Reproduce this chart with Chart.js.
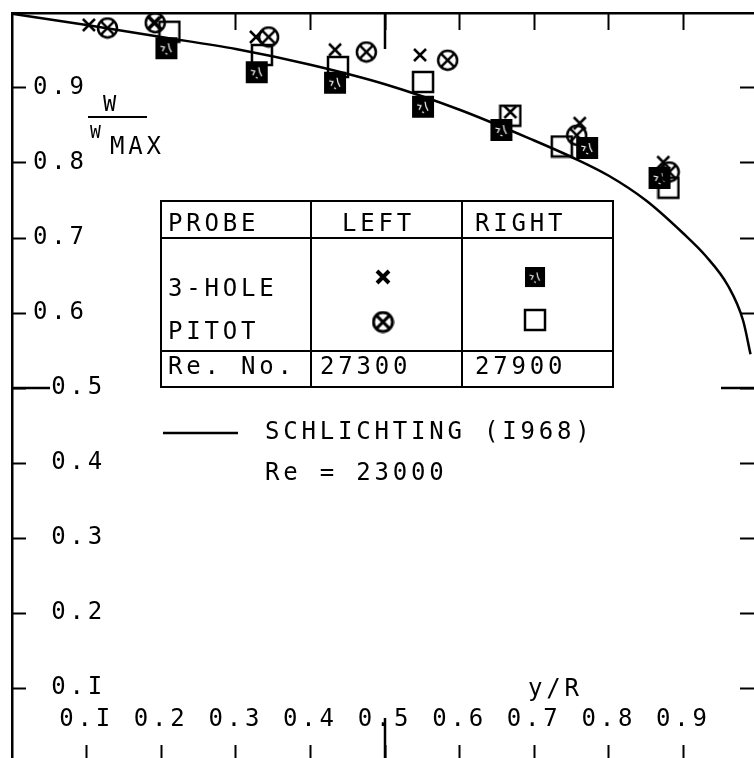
<!DOCTYPE html>
<html>
<head>
<meta charset="utf-8">
<script src="https://cdn.jsdelivr.net/npm/chart.js@4.4.0/dist/chart.umd.min.js"></script>
<style>
  html, body { margin: 0; padding: 0; background: #fff; overflow: hidden; }
  #wrap { width: 770px; height: 775px; }
</style>
</head>
<body>
<div id="wrap"><canvas id="profile" width="770" height="775"></canvas></div>
<script>
// Schlichting curve (Re = 23000)
var schlichtingX = [0.0, 0.1, 0.2, 0.3, 0.4, 0.5, 0.6, 0.7, 0.75, 0.8, 0.85, 0.9, 0.93, 0.96, 0.98, 0.99];
var schlichtingW = [0.999, 0.984, 0.968, 0.952, 0.931, 0.905, 0.871, 0.830, 0.808, 0.783, 0.750, 0.706, 0.676, 0.636, 0.590, 0.545];

// left side, 3-hole probe (x) and pitot (circle-x)
var left3HoleX = [0.103, 0.19, 0.327, 0.433, 0.547, 0.668, 0.761, 0.873];
var left3HoleW = [0.984, 0.987, 0.968, 0.951, 0.944, 0.868, 0.853, 0.801];
var leftPitotX = [0.128, 0.192, 0.344, 0.475, 0.584, 0.757, 0.881];
var leftPitotW = [0.980, 0.987, 0.968, 0.948, 0.937, 0.837, 0.788];

// right side, 3-hole probe (filled square) and pitot (open square)
var right3HoleX = [0.207, 0.328, 0.433, 0.551, 0.656, 0.771, 0.868];
var right3HoleW = [0.953, 0.921, 0.907, 0.875, 0.844, 0.820, 0.780];
var rightPitotX = [0.211, 0.335, 0.437, 0.551, 0.668, 0.737, 0.880];
var rightPitotW = [0.975, 0.944, 0.928, 0.908, 0.863, 0.822, 0.767];

var xTicks = [0.1, 0.2, 0.3, 0.4, 0.5, 0.6, 0.7, 0.8, 0.9];
var xTickLabels = ['0.I', '0.2', '0.3', '0.4', '0.5', '0.6', '0.7', '0.8', '0.9'];
var yTicks = [0.1, 0.2, 0.3, 0.4, 0.5, 0.6, 0.7, 0.8, 0.9];
var yTickLabels = ['0.I', '0.2', '0.3', '0.4', '0.5', '0.6', '0.7', '0.8', '0.9'];

var FONT = '"DejaVu Sans Mono", "Liberation Mono", monospace';
var SPACING = '3.8px';

function pts(xs, ys) {
    var out = [];
    for (var i = 0; i < xs.length; i++) out.push({x: xs[i], y: ys[i]});
    return out;
}

function marker(kind, lw) {
    var c = document.createElement('canvas');
    var s = kind === 'cross' ? 16 : (kind === 'otimes' ? 23 : 24);
    c.width = s; c.height = s;
    var g = c.getContext('2d');
    g.strokeStyle = '#000'; g.fillStyle = '#000';
    g.lineWidth = lw || 2.5;
    var m = s / 2;
    if (kind === 'cross') {
        g.beginPath();
        g.moveTo(2, 2); g.lineTo(s - 2, s - 2);
        g.moveTo(s - 2, 2); g.lineTo(2, s - 2);
        g.stroke();
    } else if (kind === 'otimes') {
        g.beginPath(); g.arc(m, m, m - 2, 0, Math.PI * 2); g.stroke();
        var d = (m - 2) * 0.7;
        g.beginPath();
        g.moveTo(m - d, m - d); g.lineTo(m + d, m + d);
        g.moveTo(m + d, m - d); g.lineTo(m - d, m + d);
        g.stroke();
    } else if (kind === 'filled') {
        g.fillRect(1, 1, s - 2, s - 2);
        // scanner speckle inside the black squares
        g.strokeStyle = '#fff'; g.lineWidth = 1.2;
        g.beginPath();
        g.moveTo(6, 10); g.lineTo(10, 11); g.lineTo(8, 15);
        g.moveTo(14, 7); g.lineTo(15, 12); g.lineTo(17, 16);
        g.moveTo(11, 17); g.lineTo(13, 18);
        g.stroke();
    } else {
        g.strokeRect(2, 2, s - 4, s - 4);
    }
    return c;
}

var mkCross = marker('cross'), mkOtimes = marker('otimes');
var mkFilled = marker('filled'), mkOpen = marker('open');

function pinTicks(vals) {
    return function(scale) { scale.ticks = vals.map(function(v){ return {value: v}; }); };
}

// scales take no room of their own: the plot frame fills the canvas
function flat(s) {
    if (s.isHorizontal()) s.height = 0; else s.width = 0;
    s.paddingTop = 0; s.paddingBottom = 0; s.paddingLeft = 0; s.paddingRight = 0;
}

// long ticks at 0.5 on every side of the frame
var longTicks = {
    id: 'longTicks',
    afterDraw: function(chart) {
        var ctx = chart.ctx, a = chart.chartArea;
        var px = chart.scales.x.getPixelForValue(0.5);
        var py = chart.scales.y.getPixelForValue(0.5);
        ctx.save();
        ctx.strokeStyle = '#000'; ctx.lineWidth = 2.5;
        ctx.beginPath();
        ctx.moveTo(px, a.top); ctx.lineTo(px, a.top + 36);
        ctx.moveTo(px, a.bottom); ctx.lineTo(px, a.bottom - 45);
        ctx.moveTo(a.left, py); ctx.lineTo(a.left + 38, py);
        ctx.moveTo(a.right, py); ctx.lineTo(a.right - 37, py);
        ctx.stroke();
        ctx.restore();
    }
};

var annotations = {
    id: 'annotations',
    beforeUpdate: function(chart) { chart.ctx.letterSpacing = SPACING; },
    beforeDraw: function(chart) { chart.ctx.letterSpacing = SPACING; },
    afterDraw: function(chart) {
        var ctx = chart.ctx;
        ctx.save();
        ctx.fillStyle = '#000'; ctx.strokeStyle = '#000';
        ctx.letterSpacing = SPACING;
        ctx.textBaseline = 'middle';
        ctx.textAlign = 'left';

        // W / W_MAX
        ctx.font = '22px ' + FONT;
        ctx.fillText('W', 103, 105);
        ctx.lineWidth = 2;
        ctx.beginPath(); ctx.moveTo(88, 117); ctx.lineTo(147, 117); ctx.stroke();
        ctx.font = '18px ' + FONT;
        ctx.fillText('W', 90, 133);
        ctx.font = '24px ' + FONT;
        ctx.fillText('MAX', 110, 148);

        ctx.fillText('y/R', 528, 690);

        // table
        ctx.lineWidth = 2;
        ctx.strokeRect(161, 201, 452, 186);
        ctx.beginPath();
        ctx.moveTo(311, 201); ctx.lineTo(311, 387);
        ctx.moveTo(462, 201); ctx.lineTo(462, 387);
        ctx.moveTo(161, 238); ctx.lineTo(613, 238);
        ctx.moveTo(161, 351); ctx.lineTo(613, 351);
        ctx.stroke();
        ctx.fillText('PROBE', 168, 225);
        ctx.fillText('LEFT', 342, 225);
        ctx.fillText('RIGHT', 475, 225);
        ctx.fillText('3-HOLE', 168, 290);
        ctx.fillText('PITOT', 168, 333);
        ctx.fillText('Re. No.', 168, 368);
        ctx.fillText('27300', 320, 368);
        ctx.fillText('27900', 475, 368);
        var bx = marker('cross', 4), bo = marker('otimes', 3);
        ctx.drawImage(bx, 383 - bx.width / 2, 277 - bx.height / 2);
        ctx.drawImage(bo, 383 - bo.width / 2, 322 - bo.height / 2);
        ctx.drawImage(mkFilled, 535 - 11, 277 - 11, 22, 22);
        ctx.drawImage(mkOpen, 535 - mkOpen.width / 2, 320 - mkOpen.height / 2);

        // curve legend
        ctx.lineWidth = 2.5;
        ctx.beginPath(); ctx.moveTo(163, 433); ctx.lineTo(238, 433); ctx.stroke();
        ctx.fillText('SCHLICHTING (I968)', 265, 433);
        ctx.fillText('Re = 23000', 265, 474);
        ctx.restore();
    }
};

function tickFont() { return {family: FONT, size: 24, lineHeight: 1}; }

var ctx = document.getElementById('profile').getContext('2d');
var chart = new Chart(ctx, {
    type: 'scatter',
    data: {
        datasets: [
            {
                label: 'LEFT 3-HOLE',
                data: pts(left3HoleX, left3HoleW),
                pointStyle: mkCross, pointRadius: 8, order: 1
            },
            {
                label: 'LEFT PITOT',
                data: pts(leftPitotX, leftPitotW),
                pointStyle: mkOtimes, pointRadius: 10, order: 2
            },
            {
                label: 'RIGHT 3-HOLE',
                data: pts(right3HoleX, right3HoleW),
                pointStyle: mkFilled, pointRadius: 11, order: 3
            },
            {
                label: 'RIGHT PITOT',
                data: pts(rightPitotX, rightPitotW),
                pointStyle: mkOpen, pointRadius: 11, order: 4
            },
            {
                label: 'SCHLICHTING (I968)',
                data: pts(schlichtingX, schlichtingW),
                showLine: true, pointRadius: 0,
                borderColor: '#000', borderWidth: 2.5,
                cubicInterpolationMode: 'monotone',
                order: 5
            }
        ]
    },
    options: {
        responsive: false,
        animation: false,
        events: [],
        layout: {padding: {left: 12, top: 13, right: 8, bottom: 12}},
        plugins: {legend: {display: false}, tooltip: {enabled: false}},
        scales: {
            x: {
                type: 'linear', position: 'bottom', min: 0, max: 1,
                afterBuildTicks: pinTicks(xTicks),
                afterFit: flat,
                grid: {drawOnChartArea: false, drawTicks: true, tickLength: -18, tickWidth: 2, tickColor: '#000'},
                border: {display: false},
                ticks: {
                    color: '#000', font: tickFont(), mirror: true, padding: 31,
                    autoSkip: false, maxRotation: 0,
                    callback: function(v, i){ return xTickLabels[i]; }
                }
            },
            xTop: {
                type: 'linear', position: 'top', min: 0, max: 1,
                afterBuildTicks: pinTicks(xTicks),
                afterFit: flat,
                grid: {
                    drawOnChartArea: false, drawTicks: true, tickLength: -17, tickWidth: 2,
                    tickColor: function(c){ return c.tick && c.tick.value < 0.25 ? 'rgba(0,0,0,0)' : '#000'; }
                },
                border: {display: true, color: '#000', width: 2.5},
                ticks: {display: false}
            },
            y: {
                type: 'linear', position: 'left', min: 0, max: 1,
                afterBuildTicks: pinTicks(yTicks),
                afterFit: flat,
                grid: {drawOnChartArea: false, drawTicks: true, tickLength: -14, tickWidth: 2, tickColor: '#000'},
                border: {display: true, color: '#000', width: 2.5},
                ticks: {
                    color: '#000', font: tickFont(), mirror: true, padding: 21,
                    autoSkip: false,
                    callback: function(v, i){ return (yTicks[i] <= 0.5 ? ' ' : '') + yTickLabels[i]; }
                }
            },
            yRight: {
                type: 'linear', position: 'right', min: 0, max: 1,
                afterBuildTicks: pinTicks(yTicks),
                afterFit: flat,
                grid: {drawOnChartArea: false, drawTicks: true, tickLength: -18, tickWidth: 2, tickColor: '#000'},
                border: {display: true, color: '#000', width: 2.5},
                ticks: {display: false}
            }
        }
    },
    plugins: [annotations, longTicks]
});
</script>
</body>
</html>
